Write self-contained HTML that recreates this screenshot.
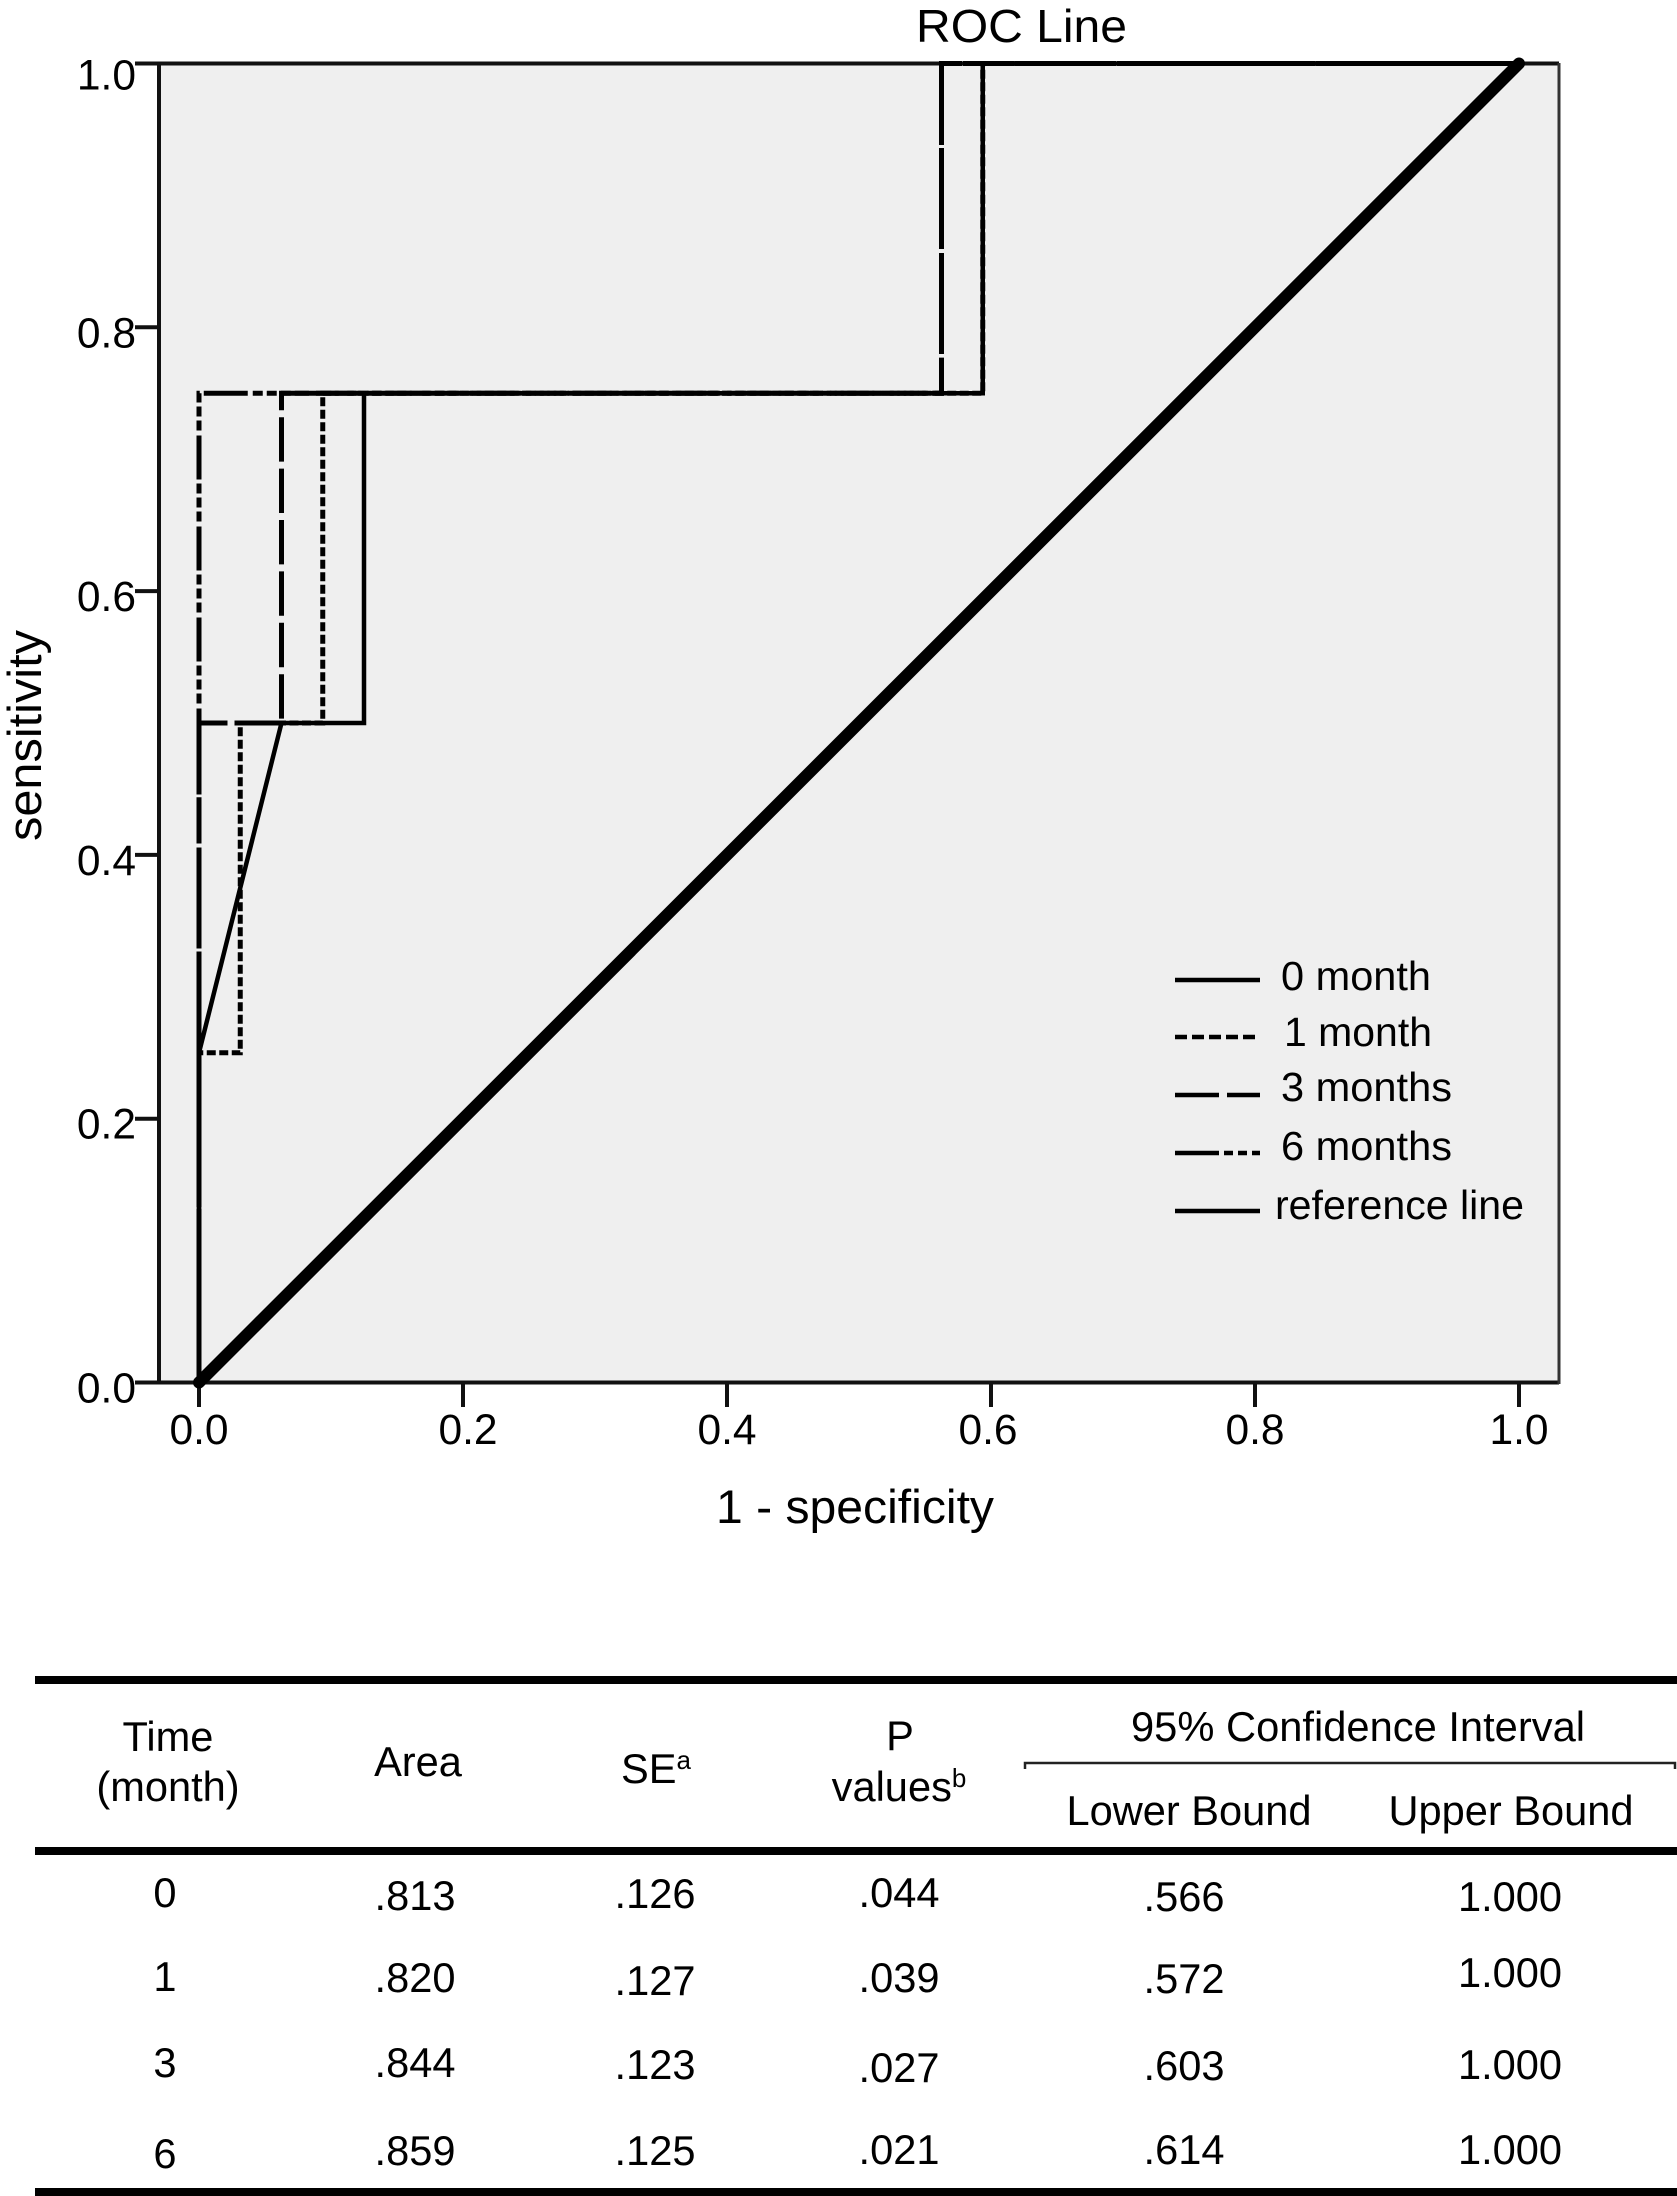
<!DOCTYPE html>
<html lang="en">
<head>
<meta charset="utf-8">
<title>ROC Line</title>
<style>
html,body{margin:0;padding:0;background:#fff;}
svg{display:block;}
text{font-family:"Liberation Sans",sans-serif;fill:#000;}
.tb{font-size:41.6px;text-anchor:middle;}
.sup{font-size:26px;}
.lg{font-size:41px;}
</style>
</head>
<body>
<svg id="root" xmlns="http://www.w3.org/2000/svg" width="1677" height="2196" viewBox="0 0 1677 2196">
  <rect x="159" y="64" width="1400" height="1318" fill="#efefef"/>
  <g id="chart"></g>

  <text x="916" y="42" font-size="46" textLength="211" lengthAdjust="spacingAndGlyphs">ROC Line</text>
  <text x="716" y="1523" font-size="47" textLength="278" lengthAdjust="spacingAndGlyphs">1 - specificity</text>
  <text transform="translate(41,841) rotate(-90)" font-size="47" textLength="211" lengthAdjust="spacingAndGlyphs">sensitivity</text>

  <g>
    <g>
      <line x1="1175" x2="1260" y1="980" y2="980" stroke="#000" stroke-width="4.5"/>
      <text class="lg" x="1281" y="990" textLength="150" lengthAdjust="spacingAndGlyphs">0 month</text>
    </g>
    <g>
      <line x1="1175" x2="1258" y1="1037" y2="1037" stroke="#000" stroke-width="4.5" stroke-dasharray="12 5"/>
      <text class="lg" x="1284" y="1046" textLength="148" lengthAdjust="spacingAndGlyphs">1 month</text>
    </g>
    <g>
      <line x1="1175" x2="1260" y1="1095" y2="1095" stroke="#000" stroke-width="4.5" stroke-dasharray="44 8"/>
      <text class="lg" x="1281" y="1101" textLength="171" lengthAdjust="spacingAndGlyphs">3 months</text>
    </g>
    <g>
      <line x1="1175" x2="1260" y1="1153" y2="1153" stroke="#000" stroke-width="4.5" stroke-dasharray="44 5 9 5 9 5 9 5"/>
      <text class="lg" x="1281" y="1160" textLength="171" lengthAdjust="spacingAndGlyphs">6 months</text>
    </g>
    <g>
      <line x1="1175" x2="1260" y1="1211" y2="1211" stroke="#000" stroke-width="4.5"/>
      <text class="lg" x="1275" y="1219" textLength="249" lengthAdjust="spacingAndGlyphs">reference line</text>
    </g>
  </g>

  <g>
    <rect x="35" y="1676" width="1642" height="8" fill="#000"/>
    <rect x="35" y="1847" width="1642" height="8" fill="#000"/>
    <rect x="35" y="2188" width="1642" height="8" fill="#000"/>
    <path d="M1025 1769V1763H1675V1769" fill="none" stroke="#222" stroke-width="2.5"/>

    <text class="tb" x="168" y="1751">Time</text>
    <text class="tb" x="168" y="1801">(month)</text>
    <text class="tb" x="418" y="1776">Area</text>
    <text class="tb" x="656" y="1783">SE<tspan class="sup" dy="-14">a</tspan></text>
    <text class="tb" x="900" y="1750">P</text>
    <text class="tb" x="899" y="1801">values<tspan class="sup" dy="-14">b</tspan></text>
    <text class="tb" x="1358" y="1741" textLength="454" lengthAdjust="spacingAndGlyphs">95% Confidence Interval</text>
    <text class="tb" x="1189" y="1825">Lower Bound</text>
    <text class="tb" x="1511" y="1825">Upper Bound</text>

    <g>
      <text class="tb" x="165" y="1907">0</text><text class="tb" x="415" y="1910">.813</text><text class="tb" x="655" y="1908">.126</text><text class="tb" x="899" y="1907">.044</text><text class="tb" x="1184" y="1911">.566</text><text class="tb" x="1510" y="1911">1.000</text>
    </g>
    <g>
      <text class="tb" x="165" y="1991">1</text><text class="tb" x="415" y="1992">.820</text><text class="tb" x="655" y="1995">.127</text><text class="tb" x="899" y="1992">.039</text><text class="tb" x="1184" y="1993">.572</text><text class="tb" x="1510" y="1987">1.000</text>
    </g>
    <g>
      <text class="tb" x="165" y="2077">3</text><text class="tb" x="415" y="2077">.844</text><text class="tb" x="655" y="2079">.123</text><text class="tb" x="899" y="2082">.027</text><text class="tb" x="1184" y="2080">.603</text><text class="tb" x="1510" y="2079">1.000</text>
    </g>
    <g>
      <text class="tb" x="165" y="2168">6</text><text class="tb" x="415" y="2165">.859</text><text class="tb" x="655" y="2165">.125</text><text class="tb" x="899" y="2164">.021</text><text class="tb" x="1184" y="2164">.614</text><text class="tb" x="1510" y="2164">1.000</text>
    </g>
  </g>
</svg>
<script>
const xTickValues = [0, 0.2, 0.4, 0.6, 0.8, 1];
const yTickValues = [0, 0.2, 0.4, 0.6, 0.8, 1];
const xTickLabels = ['0.0', '0.2', '0.4', '0.6', '0.8', '1.0'];
const yTickLabels = ['0.0', '0.2', '0.4', '0.6', '0.8', '1.0'];

const month0X = [0, 0, 0.0625, 0.125, 0.125, 0.59375, 0.59375, 1];
const month0Y = [0, 0.25, 0.5, 0.5, 0.75, 0.75, 1, 1];
const month1X = [0, 0, 0.03125, 0.03125, 0.09375, 0.09375, 0.59375, 0.59375, 1];
const month1Y = [0, 0.25, 0.25, 0.5, 0.5, 0.75, 0.75, 1, 1];
const month3X = [0, 0, 0.0625, 0.0625, 0.5625, 0.5625, 1];
const month3Y = [0, 0.5, 0.5, 0.75, 0.75, 1, 1];
const month6X = [0, 0, 0.5625, 0.5625, 1];
const month6Y = [0, 0.75, 0.75, 1, 1];
const referenceX = [0, 1];
const referenceY = [0, 1];

const NS = 'http://www.w3.org/2000/svg';
const chart = document.getElementById('chart');
function xScale(v) { return 199 + 1320 * v; }
function yScale(v) { return 1382.5 - 1319 * v; }
function xLabelPos(v, i) { return xScale(v) + (i === 1 ? 5 : i === 3 ? -3 : 0); }

function makeLine(x1, y1, x2, y2, width, color) {
  const l = document.createElementNS(NS, 'line');
  l.setAttribute('x1', x1);
  l.setAttribute('y1', y1);
  l.setAttribute('x2', x2);
  l.setAttribute('y2', y2);
  l.setAttribute('stroke', color);
  l.setAttribute('stroke-width', width);
  return l;
}

function makeText(str, x, y, anchor) {
  const t = document.createElementNS(NS, 'text');
  t.setAttribute('x', x);
  t.setAttribute('y', y);
  t.setAttribute('font-size', '42.5');
  t.setAttribute('text-anchor', anchor);
  t.textContent = str;
  return t;
}

function makeSeries(xs, ys, width, dash, offset) {
  const p = document.createElementNS(NS, 'polyline');
  const pts = xs.map(function (v, i) { return xScale(v) + ',' + yScale(ys[i]); });
  p.setAttribute('points', pts.join(' '));
  p.setAttribute('fill', 'none');
  p.setAttribute('stroke', '#000');
  p.setAttribute('stroke-width', width);
  p.setAttribute('stroke-linejoin', 'miter');
  if (dash) p.setAttribute('stroke-dasharray', dash);
  if (offset) p.setAttribute('stroke-dashoffset', offset);
  return p;
}

const axisLeft = makeLine(159, 62, 159, 1384, 4, '#111');


chart.appendChild(axisLeft);

const axisBottom = makeLine(135, 1382.5, 1559, 1382.5, 4, '#111');


chart.appendChild(axisBottom);

const frameTop = makeLine(137, 63.5, 1559, 63.5, 4, '#111');


chart.appendChild(frameTop);

const frameRight = makeLine(1559, 63, 1559, 1384, 3, '#333');


chart.appendChild(frameRight);

xTickValues.forEach(function (v, i) {
  const tick = makeLine(xScale(v), 1382, xScale(v), 1407, 4, '#111');
  
  
  chart.appendChild(tick);
  const label = makeText(xTickLabels[i], xLabelPos(v, i), 1444, 'middle');
  
  
  chart.appendChild(label);
});

yTickValues.forEach(function (v, i) {
  const tick = makeLine(135, yScale(v), 159, yScale(v), 4, '#111');
  
  
  chart.appendChild(tick);
  const label = makeText(yTickLabels[i], 136, yScale(v) + (v === 1 ? 26 : 20), 'end');
  
  
  chart.appendChild(label);
});

const lineMonth0 = makeSeries(month0X, month0Y, 4.5, null, 0);


chart.appendChild(lineMonth0);

const lineMonth1 = makeSeries(month1X, month1Y, 5, '9 3.5', 0);


chart.appendChild(lineMonth1);

const lineMonth3 = makeSeries(month3X, month3Y, 5, '44.4 7', 24.6);


chart.appendChild(lineMonth3);

const lineMonth6 = makeSeries(month6X, month6Y, 5, '44 5 10 4 10 4 10 4', 7);


chart.appendChild(lineMonth6);

const lineReference = makeSeries(referenceX, referenceY, 12, null, 0);
lineReference.setAttribute('stroke-linecap', 'round');


chart.appendChild(lineReference);
</script>
</body>
</html>
